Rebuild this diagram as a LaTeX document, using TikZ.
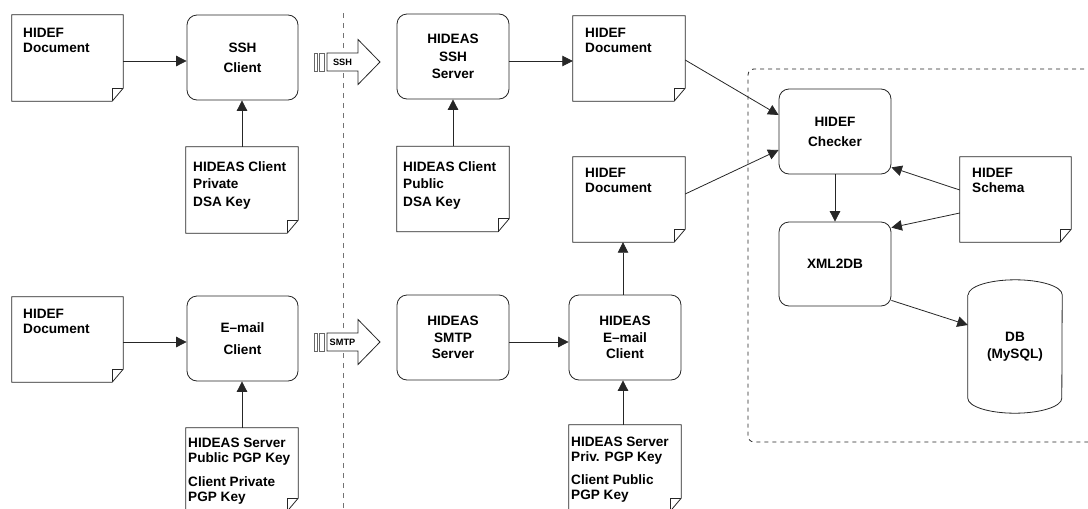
\documentclass[tikz,border=0pt]{standalone}
\usepackage{fontspec}
\setmainfont{Liberation Sans}
\usetikzlibrary{arrows.meta,calc}

\newcommand\hfont[1]{\fontsize{13.6}{#1}\selectfont\bfseries}

\begin{document}
\begin{tikzpicture}[x=1pt,y=-1pt,
  wire/.style={draw=black!85, line width=0.8pt},
  arr/.style={wire, -{Triangle[length=10.5pt,width=10.5pt]}},
  procbox/.style={wire, rounded corners=10pt, minimum width=112pt, minimum height=85pt,
                  inner sep=0pt, align=center, font=\hfont{#1}},
  procbox/.default=17.5,
  docbox/.style={minimum width=112pt, minimum height=85pt, inner sep=0pt},
  doctext/.style={anchor=north west, inner sep=0pt, align=left, font=\hfont{#1}},
  doctext/.default=15,
  fatarrow/.pic={
    \draw[wire, fill=white] (-15.5,-9) -- (15.5,-9) -- (15.5,-22.5) -- (37.5,0)
          -- (15.5,22.5) -- (15.5,9) -- (-15.5,9) -- cycle;
    \draw[draw=black!60, line width=0.7pt] (-28.5,-9) rectangle (-25.5,9)
          (-23.5,-9) rectangle (-18.5,9);
    \node[inner sep=0pt, font=\fontsize{9.2}{10}\selectfont\bfseries] (-lbl) at (0,0) {\tikzpictext};
  },
]
\useasboundingbox (0,0) rectangle (1088,509);

% separator between the client side and the server side
\draw[draw=black!55, line width=0.8pt, dash pattern=on 5pt off 5pt] (343,13) -- (343,512);

% server-side processing area
\draw[draw=black!85, line width=0.8pt, dash pattern=on 4pt off 4pt, rounded corners=6pt]
  (1100,69) -- (748,69) -- (748,442) -- (1100,442);

% documents and keys
\node[docbox, minimum width=111pt, minimum height=86pt] (d1) at (67.5,58) {};
\node[docbox] (d2) at (629,58.5) {};
\node[docbox] (d3) at (629,199.5) {};
\node[docbox, minimum width=111pt] (d4) at (67.5,339.5) {};
\node[docbox, minimum height=86pt] (k1) at (242,190) {};
\node[docbox] (k2) at (453,189) {};
\node[docbox, minimum height=83pt] (k3) at (242,469.5) {};
\node[docbox, minimum height=86pt] (k4) at (625,468) {};
\node[docbox, minimum width=111pt] (sch) at (1015.5,199.5) {};

\foreach \n in {d1,d2,d3,d4,k1,k2,k3,k4,sch}{
  \draw[wire, fill=white] (\n.north west) -- (\n.north east) -- ($(\n.south east)+(0,-13)$)
        -- ($(\n.south east)+(-11,0)$) -- (\n.south west) -- cycle;
  \draw[wire] ($(\n.south east)+(-11,0)$) -- ($(\n.south east)+(-11,-13)$)
        -- ($(\n.south east)+(0,-13)$);
}

\node[doctext] (d1t) at (23,28) {HIDEF\\Document};
\node[doctext] (d2t) at (585,28) {HIDEF\\Document};
\node[doctext] (d3t) at (585,168) {HIDEF\\Document};
\node[doctext] (d4t) at (23,309) {HIDEF\\Document};
\node[doctext] (scht) at (972,168) {HIDEF\\Schema};
\node[doctext=17.5] (k1t) at (193,161) {HIDEAS Client\\Private\\DSA Key};
\node[doctext=17.5] (k2t) at (403,161) {HIDEAS Client\\Public\\DSA Key};
\node[doctext] (k3t) at (188,438) {HIDEAS Server\\Public PGP Key\\[9pt]Client Private\\PGP Key};
\node[doctext] (k4t) at (571,437) {HIDEAS Server\\Priv. PGP Key\\[8pt]Client Public\\PGP Key};

% processing steps
\node[procbox=20, minimum width=111pt] (sshc) at (242.5,57.5) {SSH\\Client};
\node[procbox] (srv) at (453,56.5) {HIDEAS\\SSH\\Server};
\node[procbox=20] (chk) at (835,131.5) {HIDEF\\Checker};
\node[procbox, minimum height=84pt] (xml) at (835,264) {XML2DB};
\node[procbox=22, minimum width=111pt] (emc) at (242.5,338.5) {E\textendash mail\\Client};
\node[procbox=16.5] (smtp) at (453,337.5) {HIDEAS\\SMTP\\Server};
\node[procbox=16.5] (hem) at (625,337.5) {HIDEAS\\E\textendash mail\\Client};

% database
\node[inner sep=0pt, minimum width=94pt, minimum height=133pt, align=center, font=\hfont{17}]
  (db) at (1015,346.5) {DB\\(MySQL)};
\draw[wire] ($(db.north west)+(0,15)$) -- ($(db.south west)+(0,-15)$)
  arc[start angle=180, end angle=360, x radius=47pt, y radius=15pt]
  -- ($(db.north east)+(0,15)$)
  arc[start angle=0, end angle=180, x radius=47pt, y radius=15pt];

% transport channels
\pic[pic text=SSH] (ssharrow) at (342.5,62) {fatarrow};
\pic[pic text=SMTP] (smtparrow) at (342.5,342) {fatarrow};

% data flow
\draw[arr] ([yshift=-3pt]d1.east) -- ([yshift=-3pt]d1.east -| sshc.west);
\draw[arr] (k1.north) -- (k1.north |- sshc.south);
\draw[arr] ([yshift=-4.5pt]srv.east) -- ([yshift=-4.5pt]srv.east -| d2.west);
\draw[arr] (k2.north) -- (k2.north |- srv.south);
\draw[arr] ([yshift=-2.5pt]d4.east) -- ([yshift=-2.5pt]d4.east -| emc.west);
\draw[arr] (k3.north) -- (k3.north |- emc.south);
\draw[arr] ([yshift=-4.5pt]smtp.east) -- ([yshift=-4.5pt]smtp.east -| hem.west);
\draw[arr] ([xshift=-2pt]k4.north) -- ([xshift=-2pt]k4.north |- hem.south);
\draw[arr] ([xshift=-2pt]hem.north) -- ([xshift=-2pt]hem.north |- d3.south);
\draw[arr] ($(d2.east)+(0,1.5)$) -- ($(chk.west)+(0,-16.5)$);
\draw[arr] ($(d3.east)+(0,-5.5)$) -- ($(chk.west)+(0,18.5)$);
\draw[arr] ($(chk.south)$) -- (chk.south |- xml.north);
\draw[arr] ($(sch.west)+(0,-9.5)$) -- ($(chk.south east)+(0,-7)$);
\draw[arr] ($(sch.west)+(0,13.5)$) -- ($(xml.north east)+(0,6)$);
\draw[arr] ($(xml.south east)+(0,-6)$) -- ($(db.west)+(0,-21.5)$);
\end{tikzpicture}
\end{document}
